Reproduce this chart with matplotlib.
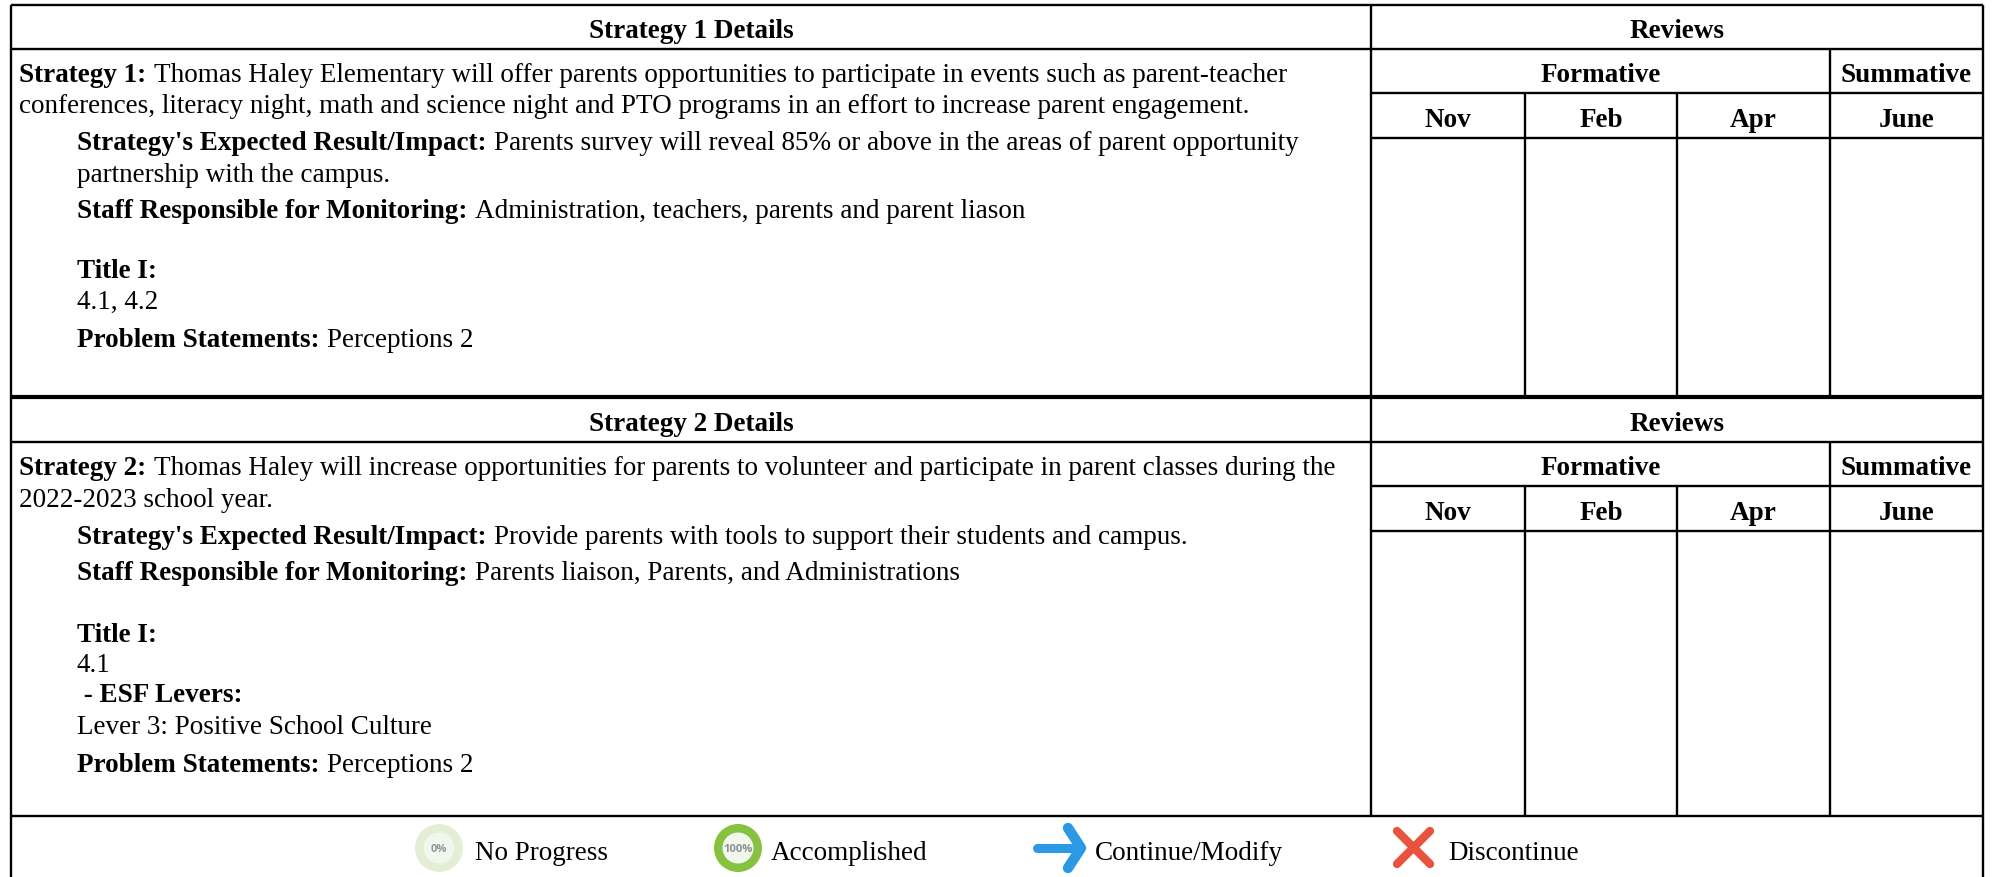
"""Strategy review table with two sections and a progress legend."""
import matplotlib
matplotlib.use("Agg")
import matplotlib.pyplot as plt
from matplotlib.patches import Circle

W, H = 1993, 877
FONT = "Liberation Serif"
SIZE = 19.53

# ── Text ──────────────────────────────────────────────────────────────────────
MONTHS = ["Nov", "Feb", "Apr", "June"]
HEADERS = ["Strategy 1 Details", "Strategy 2 Details"]
LEGEND = ["No Progress", "Accomplished", "Continue/Modify", "Discontinue"]

# (bold part, plain part) for each line
LINES_1 = [
    ("Strategy 1:", "Thomas Haley Elementary will offer parents opportunities to participate in events such as parent-teacher"),
    ("", "conferences, literacy night, math and science night and PTO programs in an effort to increase parent engagement."),
    ("Strategy's Expected Result/Impact:", "Parents survey will reveal 85% or above in the areas of parent opportunity"),
    ("", "partnership with the campus."),
    ("Staff Responsible for Monitoring:", "Administration, teachers, parents and parent liason"),
    ("Title I:", ""),
    ("", "4.1, 4.2"),
    ("Problem Statements:", "Perceptions 2"),
]
LINES_2 = [
    ("Strategy 2:", "Thomas Haley will increase opportunities for parents to volunteer and participate in parent classes during the"),
    ("", "2022-2023 school year."),
    ("Strategy's Expected Result/Impact:", "Provide parents with tools to support their students and campus."),
    ("Staff Responsible for Monitoring:", "Parents liaison, Parents, and Administrations"),
    ("Title I:", ""),
    ("", "4.1"),
    (" - ESF Levers:", ""),
    ("", "Lever 3: Positive School Culture"),
    ("Problem Statements:", "Perceptions 2"),
]

# ── Layout (pixels) ───────────────────────────────────────────────────────────
LEFT, SPLIT, RIGHT = 11, 1371, 1983
COLS = [1371, 1525, 1677, 1830, 1983]
IND = 77
X_1 = [19, 19, IND, IND, IND, IND, IND, IND]
Y_1 = [82, 113, 150, 182, 218, 278, 309, 347]
X_2 = [19, 19, IND, IND, IND, IND, IND, IND, IND]
Y_2 = [475, 507, 544, 580, 642, 672, 702, 734, 772]

BLACK = "#000000"
LW = 1.7

fig = plt.figure(figsize=(W / 100, H / 100), dpi=100, facecolor="white")
ax = fig.add_axes([0, 0, 1, 1])
ax.set_xlim(0, W)
ax.set_ylim(H, 0)
ax.axis("off")


def hline(y, x0=LEFT, x1=RIGHT, lw=LW):
    ax.plot([x0, x1], [y, y], color=BLACK, lw=lw, solid_capstyle="butt")


def vline(x, y0, y1, lw=LW):
    ax.plot([x, x], [y0, y1], color=BLACK, lw=lw, solid_capstyle="butt")


def label(x, y, s, bold=False, ha="left", size=SIZE):
    return ax.text(x, y, s, family=FONT, fontsize=size, color="#000000", va="baseline", ha=ha,
                   fontweight="bold" if bold else "normal")


def mixed_line(x, y, bold, plain):
    # bold lead-in, then plain text right after it
    if bold:
        t = label(x, y, bold, bold=True)
        ext = t.get_window_extent(fig.canvas.get_renderer())
        x = ext.x1 + 8
    if plain:
        label(x, y, plain)


def section(top, header, lines, xs, ys, bottom):
    # top = y of the rule under the section header
    label((LEFT + SPLIT) / 2, top - 11, header, bold=True, ha="center")
    label((SPLIT + RIGHT) / 2, top - 11, "Reviews", bold=True, ha="center")
    hline(top)
    hline(top + 44, SPLIT, RIGHT)
    hline(top + 89, SPLIT, RIGHT)
    vline(COLS[3], top, bottom)
    vline(COLS[1], top + 44, bottom)
    vline(COLS[2], top + 44, bottom)
    label((COLS[0] + COLS[3]) / 2, top + 33, "Formative", bold=True, ha="center")
    label((COLS[3] + COLS[4]) / 2, top + 33, "Summative", bold=True, ha="center")
    for i, m in enumerate(MONTHS):
        label((COLS[i] + COLS[i + 1]) / 2, top + 78, m, bold=True, ha="center")
    for (b, p), x, y in zip(lines, xs, ys):
        mixed_line(x, y, b, p)


# outer frame and section rules
hline(5)
vline(LEFT, 5, H)
vline(RIGHT, 5, H)
vline(SPLIT, 5, 816)
hline(397, lw=3.0)
hline(816)

section(49, HEADERS[0], LINES_1, X_1, Y_1, 397)
section(442, HEADERS[1], LINES_2, X_2, Y_2, 816)

# ── Legend icons ──────────────────────────────────────────────────────────────
ax.add_patch(Circle((439, 848), 24, fc="#e2efd5", ec="none"))
ax.add_patch(Circle((439, 848), 15.5, fc="#f1f7ec", ec="none"))
ax.text(439, 849, "0%", family="Open Sans", fontsize=8, fontweight="bold", color="#8a9a9a",
        ha="center", va="center")

ax.add_patch(Circle((738, 848), 24, fc="#86c23f", ec="none"))
ax.add_patch(Circle((738, 848), 15.5, fc="#f1f7ec", ec="none"))
ax.text(738, 849, "100%", family="Open Sans", fontsize=8, fontweight="bold", color="#8a8f94",
        ha="center", va="center")

ARROW = "#2a9ae6"
ax.plot([1037, 1080], [848, 848], color=ARROW, lw=6.5, solid_capstyle="round")
ax.plot([1068, 1081, 1068], [828, 848, 868], color=ARROW, lw=7.5, solid_capstyle="round",
        solid_joinstyle="round")

CROSS = "#e8523f"
ax.plot([1397, 1430], [831, 864], color=CROSS, lw=6, solid_capstyle="round")
ax.plot([1397, 1430], [864, 831], color=CROSS, lw=6, solid_capstyle="round")

for x, s in zip([475, 771, 1095, 1448], LEGEND):
    label(x, 860, s)

fig.savefig("out.png", dpi=100, facecolor="white")
